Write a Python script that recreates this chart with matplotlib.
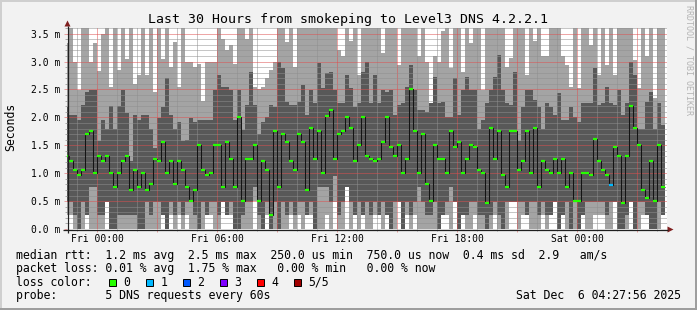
import numpy as np
import matplotlib
matplotlib.use("Agg")
import matplotlib.pyplot as plt
from matplotlib.patches import Rectangle, Polygon

plt.rcParams['font.family'] = ['DejaVu Sans Mono']

W, H, DPI = 697, 310, 100

# smokeping data: one value per 12 minute step, hours relative to Fri 00:00
step_hours = 0.2
first_edge = -1.6

median_rtt = [
    1.31, 1.21, 1.06, 0.97, 1.06, 1.70, 1.76, 1.00, 1.31, 1.21, 1.31, 1.00, 0.75, 1.00, 1.21, 1.31,
    0.70, 1.06, 0.75, 1.00, 0.70, 0.81, 1.25, 1.21, 1.56, 1.00, 1.21, 0.81, 1.21, 1.06, 0.75,
    0.50, 0.70, 1.51, 1.06, 0.96, 1.00, 1.51, 1.51, 0.75, 1.56, 1.25, 0.75, 2.01, 0.50, 1.25,
    1.25, 1.51, 0.50, 1.21, 1.06, 0.25, 1.76, 0.75, 1.70, 1.56, 1.21, 1.06, 1.70, 1.56, 0.70,
    1.81, 1.25, 1.76, 1.00, 2.03, 2.13, 1.25, 1.71, 1.76, 2.01, 1.81, 1.21, 1.51, 2.01, 1.31,
    1.25, 1.21, 1.25, 1.56, 2.01, 1.46, 1.31, 1.51, 1.00, 1.25, 2.50, 1.76, 1.00, 1.70, 0.81,
    0.50, 1.51, 1.25, 1.25, 1.00, 1.76, 1.46, 1.56, 1.00, 1.25, 1.51, 1.46, 1.06, 1.00, 0.47,
    1.81, 1.25, 1.76, 0.96, 0.75, 1.76, 1.76, 1.06, 1.21, 1.76, 1.00, 1.81, 0.75, 1.21, 1.06,
    1.00, 1.25, 1.00, 1.25, 0.75, 1.00, 0.50, 0.50, 1.00, 1.00, 0.96, 1.61, 1.21, 1.06, 0.96,
    0.79, 1.46, 1.31, 0.47, 1.31, 2.21, 1.81, 1.51, 0.70, 0.56, 1.21, 0.50, 1.51, 0.75,
]
# sorted pings: lowest, second, fourth, highest
ping_min = [
    0.25, 0.25, 0, 0, 0, 0.25, 0, 0, 0, 0, 0.49, 0, 0, 0, 0, 0, 0, 0, 0, 0, 0, 0, 0, 0, 0.25, 0,
    0.25, 0, 0.25, 0, 0.25,
    0, 0, 0, 0, 0.25, 0.25, 0, 0, 0.49, 0.25, 0.25, 0, 0, 0, 0, 0, 0.5, 0, 0, 0.25, 0, 0, 0, 0,
    0, 0.25, 0, 0.25, 0, 0.25,
    0.25, 0, 0, 0, 0.25, 0, 0.49, 0, 0, 0.76, 0, 0.25, 0, 0.25, 0, 0, 0.25, 0.25, 0, 0.25, 0, 0,
    0.49, 0, 0.25, 0, 0.25, 0, 0, 0,
    0, 0, 0, 0.25, 0.25, 0, 0.49, 0, 0.25, 0, 0, 0.25, 0, 0, 0, 0, 0.25, 0, 0, 0, 0.49, 0.49, 0,
    0.25, 0.25, 0, 0, 0, 0.25, 0,
    0.25, 0.49, 0, 0.25, 0, 0, 0, 0, 0.25, 0, 0, 0.25, 0.25, 0.25, 0, 0, 0.49, 0, 0, 0, 0.49, 0,
    0, 0.25, 0.25, 0, 0, 0, 0.25,
]
ping_low = [
    0.49, 0.49, 0.25, 0.0, 0.49, 0.25, 0.76, 0.76, 0.25, 0.25, 0.49, 0.0, 0.0, 0.25, 0.25, 0.25,
    0.25, 0.25, 0.0, 0.0, 0.49, 0.25, 0.49, 0.49, 0.25, 0.0, 0.49, 0.25, 0.49, 0.25, 0.49,
    0.49, 0.25, 0.0, 0.49, 0.25, 0.49, 0.49, 0.25, 0.49, 0.25, 0.49, 0.0, 0.0, 0.25, 0.49,
    0.49, 0.76, 0.25, 0.0, 0.49, 0.0, 0.49, 0.0, 0.49, 0.25, 0.49, 0.25, 0.49, 0.49, 0.25,
    0.49, 0.0, 0.76, 0.76, 0.76, 0.49, 0.95, 0.25, 0.49, 0.76, 0.49, 0.25, 0.49, 0.25, 0.49,
    0.25, 0.49, 0.25, 0.49, 0.25, 0.0, 0.49, 0.49, 0.0, 0.49, 0.25, 0.49, 0.76, 0.49, 0.25,
    0.25, 0.49, 0.0, 0.25, 0.49, 0.76, 0.49, 0.0, 0.25, 0.25, 0.49, 0.49, 0.25, 0.25, 0.0,
    0.25, 0.49, 0.25, 0.0, 0.49, 0.49, 0.49, 0.49, 0.49, 0.25, 0.49, 0.49, 0.25, 0.49, 0.25,
    0.25, 0.49, 0.0, 0.25, 0.49, 0.0, 0.49, 0.0, 0.25, 0.49, 0.49, 0.49, 0.49, 0.49, 0.25,
    0.49, 0.49, 0.0, 0.0, 0.25, 0.49, 0.0, 0.49, 0.49, 0.25, 0.0, 0.0, 0.49, 0.25,
]
ping_high = [
    2.19, 2.04, 2.04, 1.95, 2.22, 2.46, 2.49, 2.49, 1.57, 1.95, 1.80, 2.20, 1.80, 2.20, 2.49, 2.07,
    1.21, 2.04, 1.95, 2.04, 2.04, 1.80, 1.45, 1.98, 2.19, 2.70, 2.04, 1.80, 1.92, 1.57, 1.60,
    1.98, 1.92, 1.95, 1.95, 1.95, 1.95, 2.49, 2.76, 2.55, 2.55, 2.49, 1.95, 2.49, 1.77, 2.22,
    2.82, 2.22, 1.71, 1.92, 2.01, 2.22, 2.19, 3.00, 2.88, 2.28, 2.22, 2.22, 2.28, 2.58, 2.04,
    2.49, 2.25, 2.97, 2.52, 2.79, 2.82, 2.49, 2.25, 2.25, 2.76, 2.52, 2.19, 2.25, 2.82, 3.00,
    2.25, 2.76, 2.25, 2.49, 2.46, 2.49, 2.04, 2.22, 2.25, 2.55, 2.94, 2.49, 2.13, 2.13, 2.10,
    2.25, 2.73, 2.25, 2.28, 2.01, 2.01, 2.70, 2.04, 2.49, 2.73, 2.49, 2.49, 1.80, 1.95, 2.25,
    2.49, 2.73, 3.12, 2.49, 2.25, 2.22, 2.82, 1.57, 2.19, 2.49, 2.49, 2.31, 2.19, 1.80, 2.25,
    2.19, 2.04, 2.43, 1.95, 1.95, 2.19, 2.01, 1.92, 2.25, 2.25, 2.25, 2.88, 2.22, 2.25, 2.55,
    2.25, 2.22, 2.49, 2.04, 2.25, 3.00, 2.76, 1.80, 1.80, 2.28, 2.46, 1.80, 2.25, 1.86,
]
ping_max = [
    3.34, 3.7, 3.0, 2.49, 3.7, 3.7, 3.0, 3.34, 2.83, 3.5, 3.7, 2.55, 3.7, 2.85, 3.7, 3.05,
    3.7, 2.6, 2.75, 3.7, 2.75, 3.7, 2.45, 3.7, 3.05, 3.7, 2.9, 3.35, 2.55, 3.7, 3.0,
    3.0, 2.9, 2.95, 2.3, 3.0, 3.0, 3.0, 3.7, 3.4, 3.2, 3.3, 2.95, 3.7, 3.7, 3.4,
    3.7, 2.55, 2.5, 2.55, 2.7, 2.85, 3.0, 3.7, 3.7, 3.35, 3.7, 2.9, 3.7, 3.7, 3.7,
    3.7, 3.7, 3.7, 3.7, 3.7, 3.7, 3.7, 3.21, 3.09, 3.7, 3.36, 3.7, 2.76, 3.7, 3.7,
    3.7, 3.7, 3.7, 3.15, 3.7, 3.7, 3.7, 2.94, 3.7, 3.7, 3.7, 3.7, 3.09, 3.7, 3.0,
    2.25, 3.09, 3.0, 3.54, 3.7, 2.88, 3.7, 3.7, 2.82, 3.7, 3.33, 3.7, 3.7, 2.49, 3.7,
    3.7, 3.7, 3.7, 3.7, 2.91, 3.06, 3.7, 3.7, 3.7, 2.76, 3.7, 3.36, 3.7, 3.09, 3.09,
    3.7, 3.7, 3.7, 3.09, 2.94, 2.55, 3.7, 2.52, 3.7, 3.7, 3.3, 3.7, 2.76, 3.7, 2.94,
    3.7, 2.76, 3.7, 3.7, 3.7, 3.6, 3.03, 2.52, 3.7, 3.09, 3.7, 2.34, 3.7, 3.6,
]
loss_steps = [136]
loss_counts = [1]

tick_hours = [0, 6, 12, 18, 24]
tick_labels = ['Fri 00:00', 'Fri 06:00', 'Fri 12:00', 'Fri 18:00', 'Sat 00:00']
y_ticks = [0.0, 0.5, 1.0, 1.5, 2.0, 2.5, 3.0, 3.5]
y_tick_labels = ['0.0 m', '0.5 m', '1.0 m', '1.5 m', '2.0 m', '2.5 m', '3.0 m', '3.5 m']

loss_labels = ['0', '1', '2', '3', '4', '5/5']
loss_colors = ['#26ff00', '#00b8ff', '#0059ff', '#7e00ff', '#ff0000', '#a10000']

title = 'Last 30 Hours from smokeping to Level3 DNS 4.2.2.1'
legend_rows = [
    'median rtt:  1.2 ms avg  2.5 ms max  250.0 us min  750.0 us now  0.4 ms sd  2.9   am/s',
    'packet loss: 0.01 % avg  1.75 % max   0.00 % min   0.00 % now',
    'loss color:',
    'probe:       5 DNS requests every 60s',
]
timestamp = 'Sat Dec  6 04:27:56 2025'

GRID = (0.56, 0.56, 0.56, 0.7)
MGRID = (0.87, 0.31, 0.31, 0.5)
ARROW = '#801f1f'
AXIS = '#1f1f1f'

fig = plt.figure(figsize=(W / DPI, H / DPI), dpi=DPI, facecolor='#f2f2f2')
ax = fig.add_axes([67 / W, (H - 229) / H, 600 / W, 201 / H])
ax.set_facecolor('white')
ax.set_xlim(-1.5, 28.5)
ax.set_ylim(0, 3.6)

edges = first_edge + step_hours * np.arange(len(median_rtt) + 1)

# smoke: outer pair light, inner pair dark
ax.stairs(ping_max, edges, baseline=ping_min, fill=True, color='#a4a4a4', lw=0, zorder=1,
          antialiased=False)
ax.stairs(ping_high, edges, baseline=ping_low, fill=True, color='#585858', lw=0, zorder=1.1,
          antialiased=False)

# median line, coloured by packet loss
ax.stairs(median_rtt, edges, baseline=None, color='#141414', lw=0.75, zorder=3)
seg_colors = [loss_colors[0]] * len(median_rtt)
for s, c in zip(loss_steps, loss_counts):
    seg_colors[s] = loss_colors[c]
ax.hlines(median_rtt, edges[:-1], edges[1:], colors=seg_colors, lw=1.6, zorder=4,
          capstyle='butt')

# grid on top of the data, rrdtool style
major_x = np.arange(0, 28.5, 3)
ax.set_xticks(major_x)
ax.set_xticklabels([tick_labels[tick_hours.index(h)] if h in tick_hours else '' for h in major_x])
ax.set_xticks(np.arange(-1, 28.5, 1), minor=True)
ax.set_yticks(y_ticks)
ax.set_yticklabels(y_tick_labels)
ax.set_yticks(np.arange(0, 3.61, 0.1), minor=True)
ax.set_axisbelow(False)
ax.grid(which='major', color=MGRID, linestyle=(0, (1, 1)), lw=0.72)
ax.grid(which='minor', color=GRID, linestyle=(0, (1, 1)), lw=0.72)
ax.tick_params(which='major', length=2.2, width=0.72, color=MGRID, labelsize=7)
ax.tick_params(which='minor', length=1.4, width=0.72, color=GRID)
ax.tick_params(axis='y', which='major', pad=2.8)
ax.tick_params(axis='x', which='major', pad=1.4)
for sp in ax.spines.values():
    sp.set_visible(False)

# overlay in pixel coordinates for frame, axes, arrows and text
ov = fig.add_axes([0, 0, 1, 1], zorder=10)
ov.set_xlim(0, W)
ov.set_ylim(H, 0)
ov.axis('off')

ov.add_patch(Rectangle((0, 0), W, 2, color='#cfcfcf', lw=0))
ov.add_patch(Rectangle((0, 0), 2, H, color='#cfcfcf', lw=0))
ov.add_patch(Rectangle((0, H - 2), W, 2, color='#9e9e9e', lw=0))
ov.add_patch(Rectangle((W - 2, 0), 2, H, color='#9e9e9e', lw=0))

ov.plot([63, 668], [229.5, 229.5], color=AXIS, lw=0.9, solid_capstyle='butt')
ov.plot([67.5, 67.5], [233, 26], color=AXIS, lw=0.9, solid_capstyle='butt')
ov.add_patch(Polygon([[64.5, 26.5], [70.5, 26.5], [67.5, 20.5]], closed=True, color=ARROW, lw=0))
ov.add_patch(Polygon([[667.5, 226.5], [667.5, 232.5], [673.5, 229.5]], closed=True, color=ARROW, lw=0))

ov.text(348.5, 19, title, ha='center', va='center', fontsize=9.5)
ov.text(10.5, 127, 'Seconds', rotation=90, ha='center', va='center', fontsize=8.3)
ov.text(689, 5, 'RRDTOOL / TOBI OETIKER', rotation=-90, ha='center', va='top',
        fontsize=6, color='#b4b4b4')

row_y = [255, 268.5, 282, 295.5]
for txt, y in zip(legend_rows, row_y):
    ov.text(16, y, txt, ha='left', va='center', fontsize=8.3)
ov.text(681, row_y[3], timestamp, ha='right', va='center', fontsize=8.3)

for i, (lab, col) in enumerate(zip(loss_labels, loss_colors)):
    x0 = 108.5 + 37 * i
    ov.add_patch(Rectangle((x0, 278.5), 7, 7, facecolor=col, edgecolor='black', lw=0.7))
    ov.text(x0 + 15, row_y[2], lab, ha='left', va='center', fontsize=8.3)

fig.savefig('out.png', dpi=DPI, facecolor=fig.get_facecolor())
